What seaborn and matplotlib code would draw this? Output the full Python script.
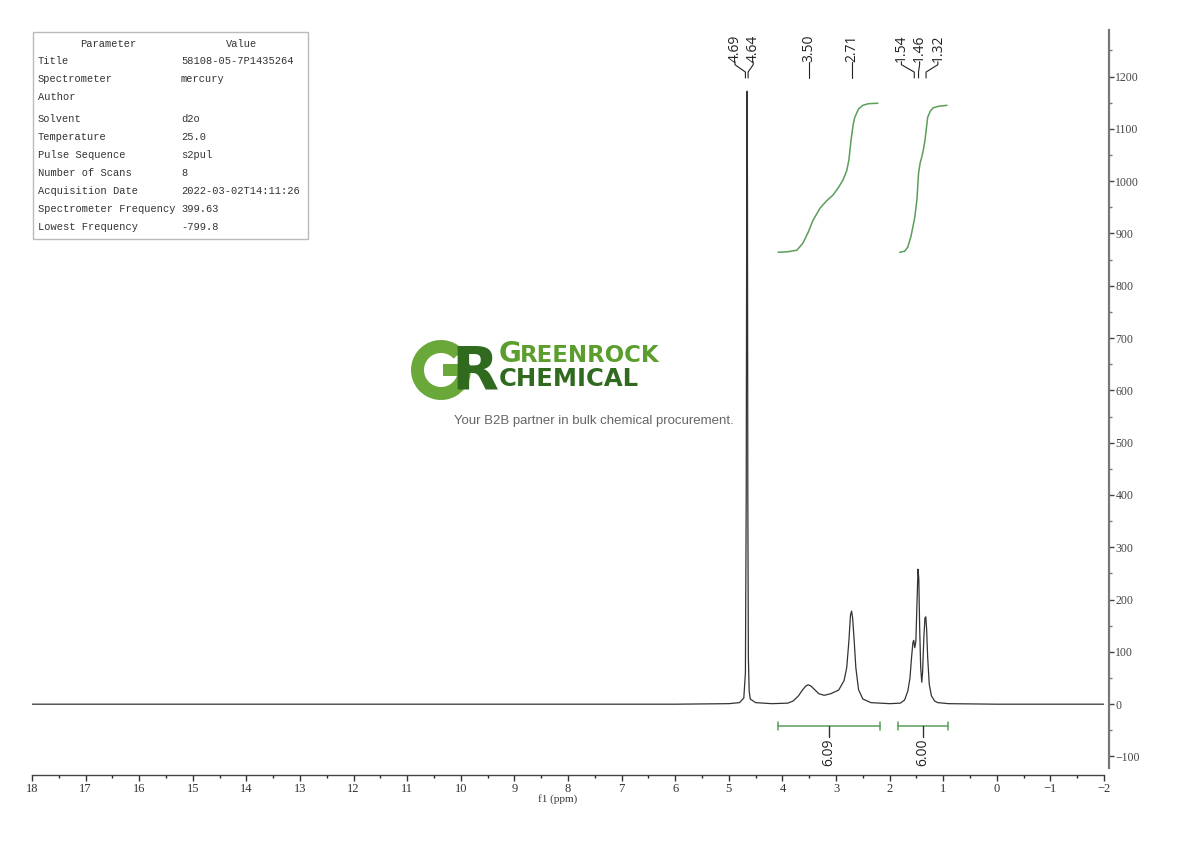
import numpy as np
import pandas as pd
import seaborn as sns
import matplotlib.pyplot as plt
from matplotlib.patches import Wedge, Rectangle

# spectrum trace (ppm, intensity)
spec_ppm = [18.0, 6.0, 5.0, 4.80, 4.72, 4.69, 4.675, 4.665, 4.658, 4.652, 4.645, 4.635, 4.62, 4.60,
            4.50, 4.2, 3.90, 3.80, 3.70, 3.62, 3.56, 3.52, 3.47, 3.42, 3.32, 3.22, 3.10, 2.95, 2.85,
            2.80, 2.76, 2.73, 2.71, 2.69, 2.66, 2.63, 2.58, 2.50, 2.35, 2.0, 1.80, 1.72, 1.66, 1.62,
            1.59, 1.565, 1.55, 1.53, 1.51, 1.49, 1.47, 1.455, 1.44, 1.42, 1.40, 1.385, 1.36, 1.34,
            1.325, 1.31, 1.29, 1.26, 1.22, 1.16, 1.10, 0.9, 0.0, -2.0]
spec_int = [0, 0, 1, 3, 12, 60, 400, 1000, 1172, 1000, 400, 90, 25, 10,
            3, 1, 2, 6, 16, 28, 35, 37, 35, 30, 20, 17, 20, 27, 45,
            70, 120, 170, 178, 165, 120, 70, 28, 10, 3, 1, 2, 8, 25, 50,
            90, 118, 122, 108, 120, 190, 258, 240, 150, 70, 42, 60, 130, 165,
            167, 145, 90, 38, 16, 6, 3, 1, 0, 0]

# integral curves
int1_ppm = [4.08, 3.90, 3.73, 3.62, 3.52, 3.43, 3.30, 3.18, 3.06, 2.96, 2.87, 2.80, 2.76, 2.72,
            2.68, 2.65, 2.58, 2.50, 2.40, 2.22]
int1_val = [864, 865, 868, 881, 902, 925, 948, 962, 973, 987, 1002, 1020, 1040, 1078,
            1108, 1122, 1138, 1145, 1148, 1149]
int2_ppm = [1.81, 1.72, 1.66, 1.60, 1.53, 1.49, 1.46, 1.43, 1.40, 1.37, 1.34, 1.29, 1.24, 1.19,
            1.10, 0.93]
int2_val = [864, 866, 874, 895, 931, 965, 1015, 1035, 1046, 1060, 1078, 1122, 1134, 1140,
            1143, 1145]

# peak picks
peak_groups = [[4.69, 4.64], [3.50], [2.71], [1.54, 1.46, 1.32]]

# integration ranges and values
integ_start = [4.08, 1.84]
integ_end = [2.18, 0.91]
integ_mid = [3.13, 1.38]
integ_value = ["6.09", "6.00"]

params = ["Title", "Spectrometer", "Author", "Solvent", "Temperature", "Pulse Sequence",
          "Number of Scans", "Acquisition Date", "Spectrometer Frequency", "Lowest Frequency"]
values = ["58108-05-7P1435264", "mercury", "", "d2o", "25.0", "s2pul", "8",
          "2022-03-02T14:11:26", "399.63", "-799.8"]

W, H = 1190, 841
sns.set_style("ticks")
plt.rcParams['font.family'] = ['Liberation Serif', 'DejaVu Serif']
fig = plt.figure(figsize=(W / 100, H / 100), dpi=100)
ax = fig.add_axes([32 / W, 1 - 768 / H, 1072 / W, 738 / H])

def fx(px):
    return px / W

def fy(py):
    return 1 - py / H

spec = pd.DataFrame({"ppm": spec_ppm, "intensity": spec_int})
sns.lineplot(data=spec, x="ppm", y="intensity", sort=False, estimator=None,
             color="#333333", linewidth=0.9, ax=ax)

green = "#5a9e5a"
for p, v in [(int1_ppm, int1_val), (int2_ppm, int2_val)]:
    sns.lineplot(x=p, y=v, sort=False, estimator=None, color=green, linewidth=1.1, ax=ax)

# integration bars
for s, e, m, lab in zip(integ_start, integ_end, integ_mid, integ_value):
    ax.plot([s, e], [-42, -42], color=green, linewidth=1.1)
    ax.plot([s, s], [-49, -35], color=green, linewidth=1.1)
    ax.plot([e, e], [-49, -35], color=green, linewidth=1.1)
    ax.plot([m, m], [-42, -63], color="#333333", linewidth=1.0)
    ax.text(m, -66, lab, rotation=90, ha="center", va="top", fontsize=10,
            family=["Open Sans", "DejaVu Sans"], color="#222222")

# peak labels on top
trans = ax.get_xaxis_transform()
spacing = 0.34
for grp in peak_groups:
    n = len(grp)
    center = np.mean(grp) + (0.05 if n == 2 else 0.0)
    label_x = [center + (n - 1) / 2 * spacing - i * spacing for i in range(n)]
    for pk, lx in zip(grp, label_x):
        ax.text(lx, 0.957, f"{pk:.2f}", rotation=90, ha="center", va="bottom", fontsize=10,
                family=["Open Sans", "DejaVu Sans"], color="#222222", transform=trans,
                clip_on=False)
        ax.plot([lx, lx, pk, pk], [0.957, 0.953, 0.943, 0.935], color="#222222",
                linewidth=0.8, transform=trans, clip_on=False)

ax.set_xlim(18, -2)
ax.set_ylim(-122, 1289)
ax.set_xticks(np.arange(18, -3, -1))
ax.set_xticklabels([str(t).replace("-", "\u2212") for t in range(18, -3, -1)])
ax.set_xticks(np.arange(17.5, -2, -1), minor=True)
ax.set_yticks(np.arange(-100, 1300, 100))
ax.set_yticks(np.arange(-50, 1300, 100), minor=True)
ax.yaxis.tick_right()
ax.set_ylabel("")
ax.set_xlabel("f1 (ppm)", fontsize=8, labelpad=2, color="#333333")
ax.xaxis.set_label_coords(0.49, -0.035)
ax.tick_params(axis="x", which="major", length=4, width=1, labelsize=9, colors="#333333", pad=1.5)
ax.tick_params(axis="x", which="minor", length=2.5, width=1)
ax.tick_params(axis="y", which="major", length=3.6, width=1, labelsize=8.5, colors="#444444", pad=1)
ax.tick_params(axis="y", which="minor", length=2.2, width=1, colors="#777777")
for side in ["left", "top"]:
    ax.spines[side].set_visible(False)
ax.spines["bottom"].set_position(("outward", 5))
ax.spines["right"].set_position(("outward", 3.6))
ax.spines["right"].set_color("#777777")
ax.spines["right"].set_linewidth(1.6)
ax.spines["bottom"].set_color("#444444")
ax.spines["bottom"].set_linewidth(1.0)
ax.patch.set_alpha(0)

# parameter table
fig.patches.append(plt.Rectangle((fx(33), fy(239)), fx(275), 207 / H, transform=fig.transFigure,
                                 fill=False, edgecolor="#bbbbbb", linewidth=1.0))
mono = ["Liberation Mono", "DejaVu Sans Mono"]
tsize = 7.5
fig.text(fx(108), fy(44), "Parameter", ha="center", va="center", fontsize=tsize, family=mono, color="#333333")
fig.text(fx(242), fy(44), "Value", ha="center", va="center", fontsize=tsize, family=mono, color="#333333")
row_y = [61, 79, 97, 119, 137, 155, 173, 191, 209, 227]
for ry, pname, val in zip(row_y, params, values):
    fig.text(fx(38), fy(ry), pname, ha="left", va="center", fontsize=tsize, family=mono, color="#333333")
    fig.text(fx(181), fy(ry), val, ha="left", va="center", fontsize=tsize, family=mono, color="#333333")

# watermark logo, drawn on a pixel-unit overlay
ov = fig.add_axes([0, 0, 1, 1])
ov.set_xlim(0, W)
ov.set_ylim(H, 0)
ov.axis("off")
ov.patch.set_alpha(0)
ov.add_patch(Wedge((441, 370), 30, 0, 318, width=13, facecolor="#6aa83a", edgecolor="none"))
ov.add_patch(Rectangle((443, 364), 27, 12, facecolor="#6aa83a", edgecolor="none"))
ov.text(451, 389, "R", ha="left", va="baseline", fontsize=44, fontweight="bold",
        family="DejaVu Sans", color="#2f6a1e")
ov.text(499, 362, "G", ha="left", va="baseline", fontsize=20, fontweight="bold",
        family="DejaVu Sans", color="#5c9e2e")
ov.text(520, 362, "REENROCK", ha="left", va="baseline", fontsize=16.5, fontweight="bold",
        family="DejaVu Sans", color="#5c9e2e")
ov.text(499, 386, "CHEMICAL", ha="left", va="baseline", fontsize=17.5, fontweight="bold",
        family="DejaVu Sans", color="#2f6a1e")
ov.text(594, 421, "Your B2B partner in bulk chemical procurement.", ha="center",
        va="center", fontsize=9.5, family=["Liberation Sans", "DejaVu Sans"], color="#666666")

fig.savefig("out.png", dpi=100, facecolor="white")
